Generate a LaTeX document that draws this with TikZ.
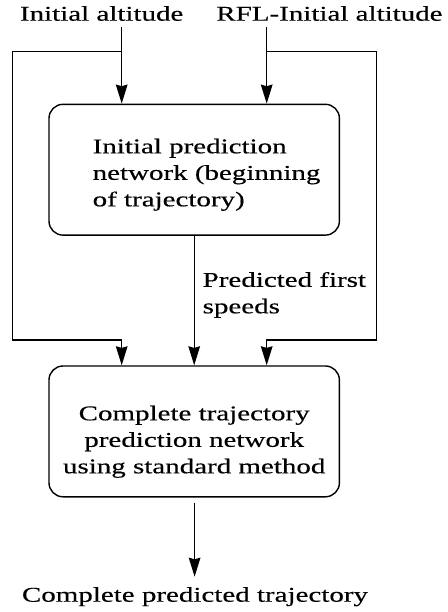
\documentclass[tikz,border=0pt]{standalone}
\usepackage{fontspec}
\setmainfont{Liberation Serif}[FakeStretch=1.38,FakeBold=0.35]
\usetikzlibrary{arrows.meta}
\begin{document}
\begin{tikzpicture}[x=0.5pt,y=-0.5pt,line width=0.7pt,
  font=\fontsize{10.5}{13.25}\selectfont,
  netbox/.style={draw,rounded corners=7pt,minimum width=145.2pt,
    minimum height=65.4pt,inner sep=0pt},
  lbl/.style={inner sep=0pt,align=left},
  flow/.style={-{Stealth[length=9.5pt,width=5.8pt,inset=0.8pt]}}]
% coordinates in pixels of the 447x612 page, y pointing down
\useasboundingbox (0,0) rectangle (447,612);
\node[netbox] (init) at (194.2,169.7) {};
\node[netbox] (full) at (194.2,431.4) {};
\node[lbl,anchor=base] (alt) at (101.7,20.7) {Initial altitude};
\node[lbl,anchor=base] (rfl) at (329.5,20.7) {RFL-Initial altitude};
% multi-line labels: base is the last line
\node[lbl,anchor=base west] (inittxt) at (92,206.3)
 {Initial prediction\\network (beginning\\of trajectory)};
\node[lbl,anchor=base,align=center] (fulltxt) at (194.2,473.3)
 {Complete trajectory\\prediction network\\using standard method};
\node[lbl,anchor=base west] (speeds) at (202,313.3) {Predicted first\\speeds};
\node[lbl,anchor=base] (result) at (195,601.7) {Complete predicted trajectory};
\coordinate (altin) at (121.7,27);
\coordinate (rflin) at (266.7,27);
\coordinate (lsplit) at (121.7,51.7);
\coordinate (rsplit) at (266.7,51.7);
\coordinate (lturn) at (121.7,340);
\coordinate (rturn) at (266.7,340);
\coordinate (outbeg) at (194.6,502.7);
\coordinate (outend) at (194.6,576.7);
\draw[flow] (altin) -- (altin |- init.north);
\draw[flow] (rflin) -- (rflin |- init.north);
\draw[flow] (lsplit) -| (12.3,340) -- (lturn) -- (lturn |- full.north);
\draw[flow] (rsplit) -| (376.6,340) -- (rturn) -- (rturn |- full.north);
\draw[flow] (init.south) -- (full.north);
\draw[flow] (outbeg) -- (outend);
\end{tikzpicture}
\end{document}
